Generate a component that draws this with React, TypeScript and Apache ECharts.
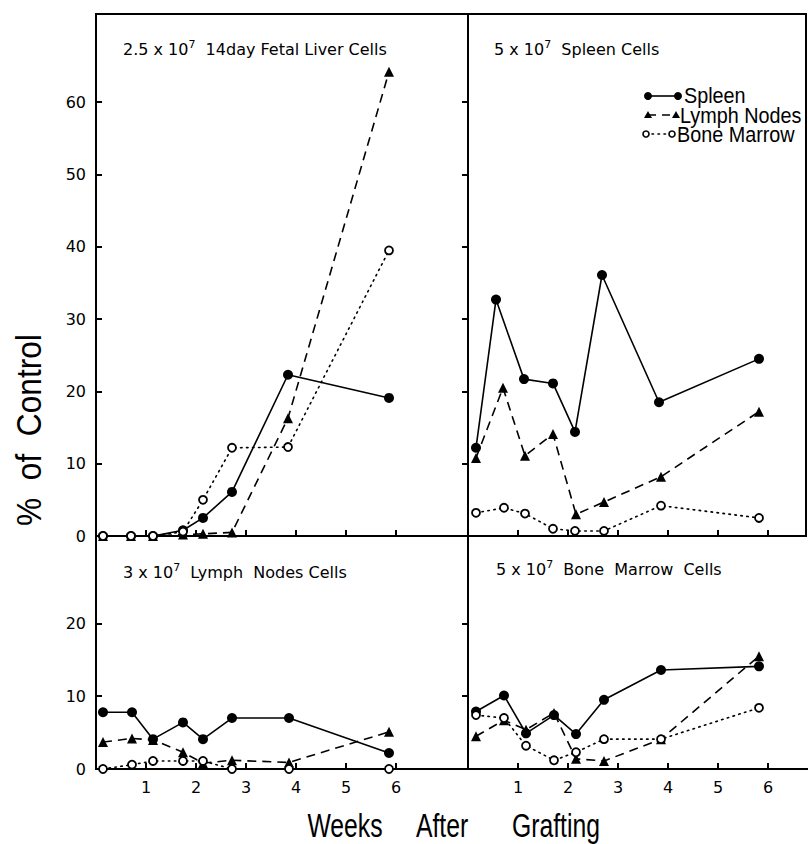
import React, { useEffect, useRef } from "react";
import * as echarts from "echarts";

// ---- Data (weeks after grafting, % of control) ----
// Panel 1: 2.5 x 10^7 14 day fetal liver cells
const liverWeeks = [0.14, 0.7, 1.14, 1.74, 2.14, 2.72, 3.84, 5.86];
const liverSpleen = [0, 0, 0, 0.8, 2.5, 6.1, 22.3, 19.1];
const liverLymph = [0, 0, 0, 0.2, 0.3, 0.5, 16.3, 64.2];
const liverMarrow = [0, 0, 0, 0.6, 5.0, 12.2, 12.3, 39.5];

// Panel 2: 5 x 10^7 spleen cells
const spleenWeeksS = [0.16, 0.56, 1.12, 1.7, 2.14, 2.68, 3.82, 5.82];
const spleenSpleen = [12.2, 32.7, 21.7, 21.1, 14.4, 36.1, 18.5, 24.5];
const spleenWeeksL = [0.16, 0.7, 1.14, 1.7, 2.16, 2.72, 3.86, 5.82];
const spleenLymph = [10.8, 20.5, 11.1, 14.1, 3.0, 4.7, 8.2, 17.2];
const spleenWeeksM = [0.16, 0.72, 1.14, 1.7, 2.14, 2.72, 3.86, 5.82];
const spleenMarrow = [3.2, 3.9, 3.1, 1.0, 0.7, 0.7, 4.2, 2.5];

// Panel 3: 3 x 10^7 lymph nodes cells
const lnWeeks = [0.14, 0.72, 1.14, 1.74, 2.14, 2.72, 3.86, 5.86];
const lnSpleen = [7.8, 7.8, 4.1, 6.4, 4.1, 7.0, 7.0, 2.2];
const lnLymph = [3.7, 4.2, 4.0, 2.3, 0.8, 1.2, 0.9, 5.1];
const lnMarrow = [0, 0.6, 1.1, 1.1, 1.1, 0, 0, 0];

// Panel 4: 5 x 10^7 bone marrow cells
const bmWeeks = [0.16, 0.72, 1.16, 1.72, 2.16, 2.72, 3.86, 5.82];
const bmSpleen = [7.9, 10.1, 4.9, 7.4, 4.8, 9.5, 13.6, 14.1];
const bmLymph = [4.5, 6.7, 5.4, 7.7, 1.4, 1.1, 4.1, 15.5];
const bmMarrow = [7.4, 7.0, 3.2, 1.2, 2.3, 4.1, 4.1, 8.4];

const weekTicks = [1, 2, 3, 4, 5, 6];
const topYLabels = [0, 10, 20, 30, 40, 50, 60];
const bottomYLabels = [0, 10, 20];

const legendNames = ["Spleen", "Lymph Nodes", "Bone Marrow"];

const FONT = "DejaVu Sans";
const NARROW = "Liberation Sans";

type Kind = "spleen" | "lymph" | "marrow";

function makeSeries(name: string, idx: number, weeks: number[], vals: number[], kind: Kind) {
  const base: any = {
    name,
    type: "line",
    xAxisIndex: idx,
    yAxisIndex: idx,
    data: weeks.map((w, i) => [w, vals[i]]),
    clip: false,
    silent: true,
    lineStyle: { color: "#000", width: 1.6 },
  };
  if (kind === "spleen") {
    base.symbol = "circle";
    base.symbolSize = 10;
    base.itemStyle = { color: "#000" };
    base.lineStyle.type = "solid";
    base.z = 2;
  } else if (kind === "lymph") {
    base.symbol = "triangle";
    base.symbolSize = 10;
    base.itemStyle = { color: "#000" };
    base.lineStyle.type = [9, 6];
    base.z = 3;
  } else {
    base.symbol = "circle";
    base.symbolSize = 8;
    base.itemStyle = { color: "#fff", borderColor: "#000", borderWidth: 1.8 };
    base.lineStyle.type = [1.5, 4.5];
    base.lineStyle.cap = "round";
    base.z = 4;
  }
  return base;
}

function title(x: number, y: number, pre: string, post: string) {
  return {
    type: "text",
    x,
    y,
    style: {
      text: `{a|${pre}}{s|7}{a|${post}}`,
      align: "left",
      verticalAlign: "middle",
      rich: {
        a: { fontSize: 16, fontFamily: FONT, fill: "#000", lineHeight: 20 },
        s: { fontSize: 11, fontFamily: FONT, fill: "#000", lineHeight: 20, verticalAlign: "top" },
      },
    },
  };
}

export default function App() {
  const ref = useRef<HTMLDivElement>(null);
  useEffect(() => {
    if (!ref.current) return;
    const chart = echarts.init(ref.current, null, { renderer: "svg" });

    const grids = [
      { left: 96, top: 14, width: 372, height: 522, show: true, borderColor: "#000", borderWidth: 2 },
      { left: 468, top: 14, width: 338, height: 522, show: true, borderColor: "#000", borderWidth: 2 },
      { left: 96, top: 536, width: 372, height: 233, show: true, borderColor: "#000", borderWidth: 2 },
      { left: 468, top: 536, width: 340, height: 233, show: false },
    ];
    const xMax = [7.44, 6.76, 7.44, 6.8];
    const yMax = [72.2, 72.2, 32, 32];

    const xAxis = grids.map((_, i) => ({
      type: "value",
      gridIndex: i,
      min: 0,
      max: xMax[i],
      axisLine: { show: true, onZero: false, lineStyle: { color: "#000", width: 2 } },
      axisTick: { show: true, inside: true, length: 6, customValues: weekTicks, lineStyle: { color: "#000", width: 2 } },
      axisLabel: {
        show: i >= 2,
        customValues: weekTicks,
        margin: 10,
        fontSize: 16,
        fontFamily: FONT,
        color: "#000",
      },
      splitLine: { show: false },
    }));

    const yAxis = grids.map((_, i) => {
      const top = i < 2;
      const labels = top ? topYLabels : bottomYLabels;
      return {
        type: "value",
        gridIndex: i,
        min: 0,
        max: yMax[i],
        axisLine: { show: true, onZero: false, lineStyle: { color: "#000", width: 2 } },
        axisTick: {
          show: true,
          inside: i % 2 === 0,
          length: 6,
          customValues: labels.filter((v) => v > 0),
          lineStyle: { color: "#000", width: 2 },
        },
        axisLabel: {
          show: i % 2 === 0,
          customValues: labels,
          margin: 10,
          fontSize: 16,
          fontFamily: FONT,
          color: "#000",
        },
        splitLine: { show: false },
      };
    });

    const series = [
      makeSeries("Spleen", 0, liverWeeks, liverSpleen, "spleen"),
      makeSeries("Lymph Nodes", 0, liverWeeks, liverLymph, "lymph"),
      makeSeries("Bone Marrow", 0, liverWeeks, liverMarrow, "marrow"),
      makeSeries("Spleen", 1, spleenWeeksS, spleenSpleen, "spleen"),
      makeSeries("Lymph Nodes", 1, spleenWeeksL, spleenLymph, "lymph"),
      makeSeries("Bone Marrow", 1, spleenWeeksM, spleenMarrow, "marrow"),
      makeSeries("Spleen", 2, lnWeeks, lnSpleen, "spleen"),
      makeSeries("Lymph Nodes", 2, lnWeeks, lnLymph, "lymph"),
      makeSeries("Bone Marrow", 2, lnWeeks, lnMarrow, "marrow"),
      makeSeries("Spleen", 3, bmWeeks, bmSpleen, "spleen"),
      makeSeries("Lymph Nodes", 3, bmWeeks, bmLymph, "lymph"),
      makeSeries("Bone Marrow", 3, bmWeeks, bmMarrow, "marrow"),
    ];

    const legendText = (x: number, y: number, t: string) => ({
      type: "text",
      x,
      y,
      scaleX: 0.9,
      style: { text: t, fontSize: 22, fontFamily: NARROW, fill: "#000", align: "left", verticalAlign: "middle" },
    });

    const graphic: any[] = [
      title(123, 49, "2.5 x 10", "  14day Fetal Liver Cells"),
      title(494, 49, "5 x 10", "  Spleen Cells"),
      title(123, 572, "3 x 10", "  Lymph  Nodes Cells"),
      title(496, 569, "5 x 10", "  Bone  Marrow  Cells"),
      // legend
      { type: "line", shape: { x1: 648, y1: 96, x2: 678, y2: 96 }, style: { stroke: "#000", lineWidth: 1.6 } },
      { type: "circle", shape: { cx: 648, cy: 96, r: 4 }, style: { fill: "#000" } },
      { type: "circle", shape: { cx: 678, cy: 96, r: 4 }, style: { fill: "#000" } },
      legendText(684, 95, legendNames[0]),
      { type: "line", shape: { x1: 648, y1: 115, x2: 676, y2: 115 }, style: { stroke: "#000", lineWidth: 1.6, lineDash: [8, 6] } },
      { type: "polygon", shape: { points: [[648, 111], [652, 118], [644, 118]] }, style: { fill: "#000" } },
      { type: "polygon", shape: { points: [[676, 111], [680, 118], [672, 118]] }, style: { fill: "#000" } },
      legendText(680, 115, legendNames[1]),
      { type: "line", shape: { x1: 646, y1: 134, x2: 672, y2: 134 }, style: { stroke: "#000", lineWidth: 1.6, lineDash: [1.5, 4.5], lineCap: "round" } },
      { type: "circle", shape: { cx: 646, cy: 134, r: 3 }, style: { fill: "#fff", stroke: "#000", lineWidth: 1.6 } },
      { type: "circle", shape: { cx: 672, cy: 134, r: 3 }, style: { fill: "#fff", stroke: "#000", lineWidth: 1.6 } },
      legendText(677, 134, legendNames[2]),
      // axis titles
      {
        type: "text",
        x: 28,
        y: 430,
        rotation: Math.PI / 2,
        scaleX: 0.88,
        style: { text: "%  of  Control", fontSize: 36, fontFamily: NARROW, fill: "#000", align: "center", verticalAlign: "middle" },
      },
      {
        type: "text",
        x: 345,
        y: 826,
        scaleX: 0.75,
        style: { text: "Weeks", fontSize: 33, fontFamily: NARROW, fill: "#000", align: "center", verticalAlign: "middle" },
      },
      {
        type: "text",
        x: 442,
        y: 826,
        scaleX: 0.75,
        style: { text: "After", fontSize: 33, fontFamily: NARROW, fill: "#000", align: "center", verticalAlign: "middle" },
      },
      {
        type: "text",
        x: 556,
        y: 826,
        scaleX: 0.75,
        style: { text: "Grafting", fontSize: 33, fontFamily: NARROW, fill: "#000", align: "center", verticalAlign: "middle" },
      },
    ];

    chart.setOption({
      animation: false,
      backgroundColor: "#fff",
      grid: grids,
      xAxis,
      yAxis,
      series,
      graphic,
    });
    return () => chart.dispose();
  }, []);

  return (
    <div
      ref={ref}
      style={{ position: "absolute", left: 0, top: 0, width: 808, height: 844, background: "#fff" }}
    />
  );
}
